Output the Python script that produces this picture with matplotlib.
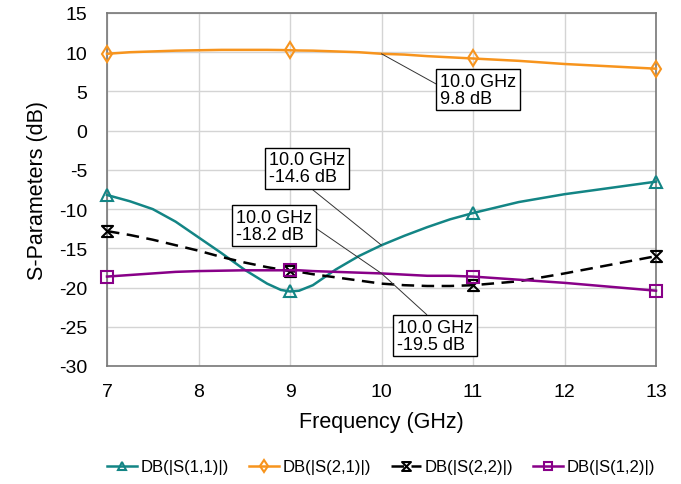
import numpy as np
import matplotlib
matplotlib.use('Agg')
import matplotlib.pyplot as plt
from matplotlib.path import Path

plt.rcParams['font.family'] = ['Liberation Sans', 'DejaVu Sans']
plt.rcParams['axes.unicode_minus'] = False

# Данные
freq = [7.0, 7.25, 7.5, 7.75, 8.0, 8.25, 8.5, 8.75, 8.9, 9.0, 9.1, 9.25, 9.5, 9.75,
        10.0, 10.25, 10.5, 10.75, 11.0, 11.5, 12.0, 12.5, 13.0]
s11 = [-8.2, -9.0, -10.0, -11.6, -13.6, -15.6, -17.7, -19.5, -20.3, -20.5, -20.4, -19.7, -17.7, -16.0,
       -14.6, -13.4, -12.3, -11.3, -10.5, -9.1, -8.1, -7.3, -6.5]
s21 = [9.8, 10.0, 10.1, 10.2, 10.25, 10.3, 10.3, 10.3, 10.28, 10.25, 10.22, 10.2, 10.1, 10.0,
       9.8, 9.7, 9.5, 9.35, 9.2, 8.9, 8.5, 8.2, 7.9]
s22 = [-12.8, -13.3, -13.9, -14.6, -15.3, -16.1, -16.8, -17.4, -17.7, -17.9, -18.0, -18.3, -18.7, -19.1,
       -19.5, -19.7, -19.8, -19.8, -19.7, -19.2, -18.2, -17.1, -16.0]
s12 = [-18.6, -18.4, -18.2, -18.0, -17.9, -17.85, -17.8, -17.8, -17.8, -17.8, -17.8, -17.9, -18.0, -18.1,
       -18.2, -18.35, -18.5, -18.5, -18.6, -19.0, -19.4, -19.9, -20.4]

labels = ['DB(|S(1,1)|)', 'DB(|S(2,1)|)', 'DB(|S(2,2)|)', 'DB(|S(1,2)|)']
colors = ['#138585', '#f7941d', 'black', '#880088']

# Маркер "песочные часы" для S(2,2)
hourglass = Path([(-1, 1), (1, 1), (-1, -1), (1, -1), (-1, 1)],
                 [Path.MOVETO, Path.LINETO, Path.LINETO, Path.LINETO, Path.CLOSEPOLY])
markers = ['^', 'd', hourglass, 's']
styles = ['-', '-', (0, (5, 3)), '-']
series = [s11, s21, s22, s12]

fig = plt.figure(figsize=(6.81, 4.85), dpi=100)
ax = fig.add_axes([107 / 681, 1 - 367 / 485, 549 / 681, 353 / 485])

# Маркеры только в точках 7, 9, 11, 13 ГГц
mark_idx = [freq.index(f) for f in [7.0, 9.0, 11.0, 13.0]]
for y, lab, c, m, ls in zip(series, labels, colors, markers, styles):
    ax.plot(freq, y, color=c, lw=1.8, ls=ls, marker=m, markevery=mark_idx,
            markersize=8, markerfacecolor='none', markeredgecolor=c,
            markeredgewidth=1.5, label=lab, clip_on=False, zorder=3)

ax.set_xlim(7, 13)
ax.set_ylim(-30, 15)
ax.set_xticks(range(7, 14))
ax.set_yticks(range(-30, 16, 5))
ax.grid(True, color='#d4d4d4', lw=1)
ax.set_axisbelow(True)
for sp in ax.spines.values():
    sp.set_color('#777777')
    sp.set_linewidth(1.2)
ax.tick_params(axis='both', length=0)
ax.tick_params(axis='x', labelsize=14, pad=12)
ax.tick_params(axis='y', labelsize=14, pad=14)
ax.set_xlabel('Frequency (GHz)', fontsize=15.5, labelpad=8)
ax.set_ylabel('S-Parameters (dB)', fontsize=15.5, labelpad=8)

# Подписи маркеров на 10 ГГц
box = dict(boxstyle='square,pad=0.2', fc='white', ec='black', lw=1)
notes = [
    ('10.0 GHz\n9.8 dB', (10, 9.8), (10.64, 5.24), (0, 0.6)),
    ('10.0 GHz\n-14.6 dB', (10, -14.6), (8.77, -4.78), (0.5, 0)),
    ('10.0 GHz\n-18.2 dB', (10, -18.2), (8.41, -12.11), (1, 0.5)),
    ('10.0 GHz\n-19.5 dB', (10, -18.2), (10.17, -26.15), (0.45, 1)),
]
for txt, xy, xyt, rp in notes:
    ax.annotate(txt, xy=xy, xytext=xyt, fontsize=13, ha='left', va='center',
                linespacing=1.0, bbox=box, zorder=5,
                arrowprops=dict(arrowstyle='-', color='#333333', lw=0.7,
                                shrinkA=0, shrinkB=0, relpos=rp))

fig.legend(loc='center', bbox_to_anchor=(381 / 681, 1 - 468 / 485), ncol=4,
           frameon=False, fontsize=12, handlelength=1.8, handletextpad=0.2,
           columnspacing=1.2, markerscale=0.8)

fig.savefig('out.png', dpi=100)
